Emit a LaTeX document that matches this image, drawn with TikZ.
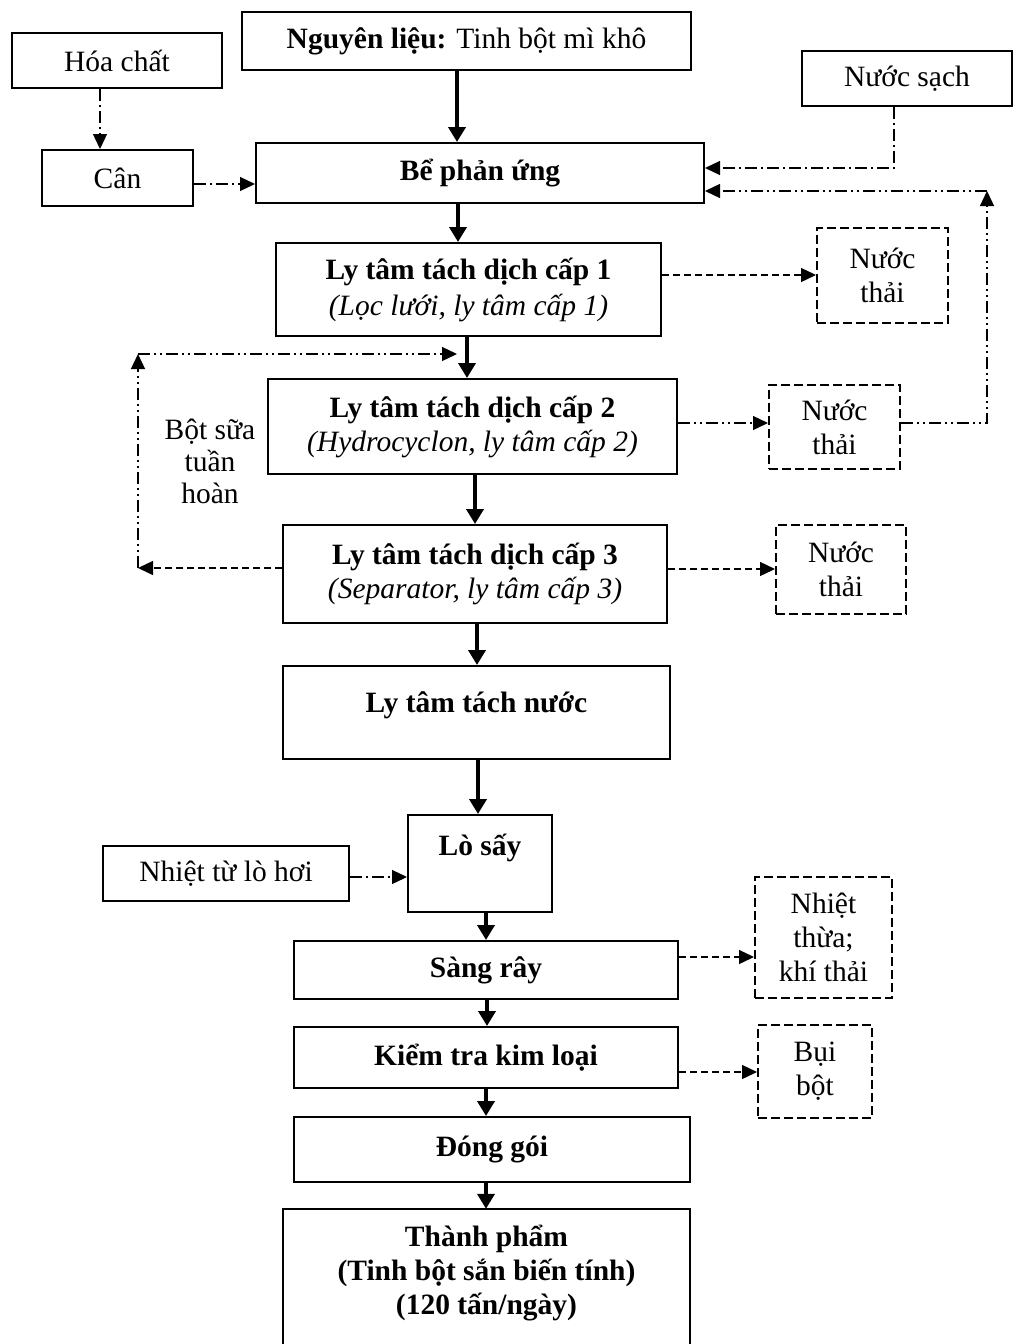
\documentclass[tikz,border=0pt]{standalone}
\usepackage{fontspec}
\setmainfont{Liberation Serif}
\usetikzlibrary{arrows.meta}
\begin{document}
\fontsize{29.5}{34}\selectfont
\begin{tikzpicture}[x=1pt,y=-1pt,
  box/.style={draw, line width=2pt, rectangle, inner sep=0pt, align=center},
  wastebox/.style={draw, line width=2pt, dash pattern=on 9pt off 4pt, rectangle, inner sep=0pt, align=center},
  flow/.style={line width=4.5pt, -{Triangle[length=15pt,width=17pt]}},
  thinline/.style={line width=1.3pt, -{Triangle[length=15pt,width=14pt]}},
  lnDashDot/.style={thinline, dash pattern=on 12pt off 4pt on 2pt off 4pt},
  lnDDot/.style={thinline, dash pattern=on 12pt off 4pt on 2pt off 4pt on 2pt off 4pt},
  lnDash/.style={thinline, dash pattern=on 7pt off 4pt}]
\fill[white] (0,0) rectangle (1014,1344);
\useasboundingbox (0,0) rectangle (1014,1344);

% inputs and reaction tank
\node[box, minimum width=210pt, minimum height=55pt] (hoa) at (117,60.5) {Hóa chất};
\node[box, minimum width=449pt, minimum height=58pt] (nl) at (466.5,41) {\textbf{Nguyên liệu:} Tinh bột mì khô};
\node[box, minimum width=151pt, minimum height=56pt] (can) at (117.5,178) {Cân};
\node[box, minimum width=448pt, minimum height=60pt] (be) at (480,173) {\textbf{Bể phản ứng}};
\node[box, minimum width=210pt, minimum height=55pt] (ns) at (907,78.5) {Nước sạch};

% centrifuge stages
\node[box, minimum width=385pt, minimum height=93pt] (lt1) at (468.5,289.5)
  {\textbf{Ly tâm tách dịch cấp 1}\\[2pt]\textit{(Lọc lưới, ly tâm cấp 1)}};
\node[box, minimum width=409pt, minimum height=95pt] (lt2) at (472.5,426.5)
  {\textbf{Ly tâm tách dịch cấp 2}\\[0pt]\textit{(Hydrocyclon, ly tâm cấp 2)}};
\node[box, minimum width=384pt, minimum height=98pt] (lt3) at (475,574)
  {\textbf{Ly tâm tách dịch cấp 3}\\[0pt]\textit{(Separator, ly tâm cấp 3)}};
\node[wastebox, minimum width=131pt, minimum height=95pt] (nt1) at (882.5,275.5) {Nước\\thải};
\node[wastebox, minimum width=131pt, minimum height=84pt] (nt2) at (834.5,427) {Nước\\thải};
\node[wastebox, minimum width=130pt, minimum height=89pt] (nt3) at (841,569.5) {Nước\\thải};
\node[align=center, inner sep=0pt] (rec) at (210,461) {Bột sữa\\[-2pt]tuần\\[-2pt]hoàn};

% dewatering, drying and finishing
\node[box, minimum width=387pt, text height=46pt, text depth=47pt] (lttn) at (476.5,712.5) {\textbf{Ly tâm tách nước}};
\node[box, minimum width=144pt, text height=40pt, text depth=57pt] (lo) at (480,863.5) {\textbf{Lò sấy}};
\node[box, minimum width=246pt, minimum height=55pt] (nhiet) at (226,873.5) {Nhiệt từ lò hơi};
\node[box, minimum width=384pt, minimum height=58pt] (sr) at (486,970) {\textbf{Sàng rây}};
\node[wastebox, minimum width=137pt, minimum height=121pt] (nhthua) at (823.5,937.5) {Nhiệt\\thừa;\\khí thải};
\node[box, minimum width=384pt, minimum height=61pt] (kt) at (486,1057.5) {\textbf{Kiểm tra kim loại}};
\node[wastebox, minimum width=114pt, minimum height=93pt] (bui) at (815,1071.5) {Bụi\\bột};
\node[box, minimum width=396pt, minimum height=65pt] (dg) at (492,1149.5) {\textbf{Đóng gói}};
\node[align=center, inner sep=0pt, minimum width=407pt, minimum height=128pt] (tp) at (486.5,1273)
  {\textbf{Thành phẩm}\\\textbf{(Tinh bột sắn biến tính)}\\\textbf{(120 tấn/ngày)}};
\draw[line width=2pt] (tp.west |- 0,1348) |- (tp.north) -| (tp.east |- 0,1348);

% main flow
\draw[flow] (nl.south -| 457,0) -- (be.north -| 457,0);
\draw[flow] (be.south -| 458,0) -- (lt1.north -| 458,0);
\draw[flow] (lt1.south -| 467,0) -- (lt2.north -| 467,0);
\draw[flow] (lt2.south -| 475,0) -- (lt3.north -| 475,0);
\draw[flow] (lt3.south -| 477,0) -- (lttn.north -| 477,0);
\draw[flow] (lttn.south -| 478,0) -- (lo.north -| 478,0);
\draw[flow] (lo.south -| 486,0) -- (sr.north -| 486,0);
\draw[flow] (sr.south -| 487,0) -- (kt.north -| 487,0);
\draw[flow] (kt.south -| 486,0) -- (dg.north -| 486,0);
\draw[flow] (dg.south -| 486,0) -- (tp.north -| 486,0);

% chemicals and water supply
\draw[lnDashDot] (hoa.south -| 100,0) -- (can.north -| 100,0);
\draw[lnDashDot] (can.east |- 0,184) -- (be.west |- 0,184);
\draw[lnDashDot] (ns.south -| 894,0) |- (be.east |- 0,168);
\coordinate (ret) at (987,191);
\draw[lnDDot] (nt2.east |- 0,423) -| (ret);
\draw[lnDDot] (ret) -- (be.east |- 0,191);

% waste water
\draw[lnDash] (lt1.east |- 0,275) -- (nt1.west |- 0,275);
\draw[lnDDot] (lt2.east |- 0,423) -- (nt2.west |- 0,423);
\draw[lnDash] (lt3.east |- 0,569) -- (nt3.west |- 0,569);

% milk starch recirculation
\coordinate (rcA) at (138,568);
\coordinate (rcB) at (138,354);
\coordinate (rcC) at (457,354);
\draw[lnDash] (lt3.west |- 0,568) -- (rcA);
\draw[lnDDot] (rcA) -- (rcB);
\draw[lnDDot] (rcB) -- (rcC);

% heat and emissions
\draw[lnDashDot] (nhiet.east |- 0,877) -- (lo.west |- 0,877);
\draw[lnDash] (sr.east |- 0,957) -- (nhthua.west |- 0,957);
\draw[lnDash] (kt.east |- 0,1072) -- (bui.west |- 0,1072);
\end{tikzpicture}
\end{document}
